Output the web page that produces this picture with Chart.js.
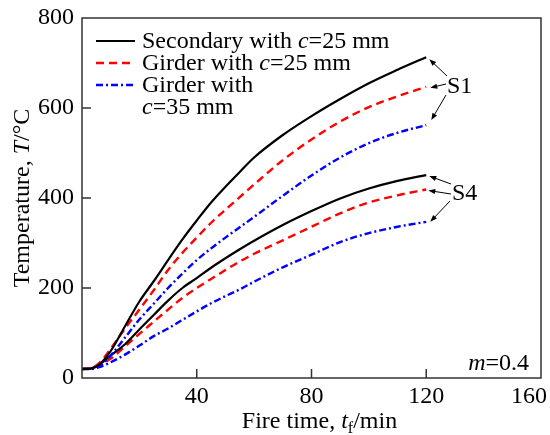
<!DOCTYPE html>
<html>
<head>
<meta charset="utf-8">
<script src="https://cdn.jsdelivr.net/npm/chart.js@4/dist/chart.umd.min.js"></script>
<style>
  html, body { margin: 0; padding: 0; background: #fff; }
  #wrap { width: 550px; height: 435px; }
</style>
</head>
<body>
<div id="wrap"><canvas id="tempChart" width="550" height="435"></canvas></div>
<script>
// fire time in minutes
const fireTime = [0, 3, 6, 10, 15, 20, 25, 30, 35, 40, 45, 50, 55, 60, 70, 80, 90, 100, 110, 120];

// S1 section temperatures (°C)
const s1Secondary25 = [20, 21, 30, 60, 115, 170, 215, 262, 308, 350, 390, 425, 458, 490, 540, 582, 620, 655, 685, 713];
const s1Girder25    = [20, 22, 33, 65, 110, 152, 195, 240, 278, 312, 345, 374, 402, 430, 484, 530, 570, 602, 626, 647];
const s1Girder35    = [20, 21, 26, 50, 90, 130, 165, 200, 232, 262, 288, 312, 335, 358, 405, 450, 490, 522, 545, 562];

// S4 section temperatures (°C)
const s4Secondary25 = [20, 21, 30, 50, 75, 108, 140, 172, 200, 222, 245, 266, 286, 305, 340, 371, 399, 421, 438, 451];
const s4Girder25    = [20, 21, 28, 43, 70, 98, 125, 152, 178, 200, 220, 240, 259, 276, 306, 336, 366, 390, 406, 419];
const s4Girder35    = [20, 20, 24, 35, 52, 72, 93, 110, 129, 148, 166, 182, 197, 214, 246, 274, 302, 322, 336, 347];

const yTicks = [0, 200, 400, 600, 800];
const xTicks = [40, 80, 120, 160];

const serif = '"Liberation Serif", "Times New Roman", serif';
const FS = 24;

function pts(values) {
    return values.map((v, i) => ({ x: fireTime[i], y: v }));
}

const styles = {
    secondary: { color: '#000000', width: 2.2, dash: [] },
    girder25: { color: '#ff0000', width: 2.4, dash: [8, 5] },
    girder35: { color: '#0000ff', width: 2.4, dash: [7, 3, 2, 3] }
};

function ds(values, st) {
    return {
        data: pts(values),
        borderColor: st.color,
        borderWidth: st.width,
        borderDash: st.dash,
        pointRadius: 0,
        fill: false,
        cubicInterpolationMode: 'monotone'
    };
}

// text made of runs with italic parts and subscripts
function runFont(r) {
    const size = r.sub ? 16 : FS;
    return (r.it ? 'italic ' : '') + size + 'px ' + serif;
}
function runsWidth(ctx, runs) {
    let w = 0;
    runs.forEach(r => { ctx.font = runFont(r); w += ctx.measureText(r.t).width; });
    return w;
}
function drawRuns(ctx, runs, x, y, align) {
    let cx = x;
    if (align === 'center') cx = x - runsWidth(ctx, runs) / 2;
    if (align === 'right') cx = x - runsWidth(ctx, runs);
    ctx.textAlign = 'left';
    ctx.textBaseline = 'alphabetic';
    runs.forEach(r => {
        ctx.font = runFont(r);
        ctx.fillText(r.t, cx, y + (r.sub ? 5 : 0));
        cx += ctx.measureText(r.t).width;
    });
}

function arrow(ctx, x0, y0, x1, y1) {
    const a = Math.atan2(y1 - y0, x1 - x0);
    const len = 7, half = 2.6;
    ctx.beginPath();
    ctx.moveTo(x0, y0);
    ctx.lineTo(x1 - Math.cos(a) * len * 0.8, y1 - Math.sin(a) * len * 0.8);
    ctx.stroke();
    ctx.beginPath();
    ctx.moveTo(x1, y1);
    ctx.lineTo(x1 - Math.cos(a) * len - Math.sin(a) * half, y1 - Math.sin(a) * len + Math.cos(a) * half);
    ctx.lineTo(x1 - Math.cos(a) * len + Math.sin(a) * half, y1 - Math.sin(a) * len - Math.cos(a) * half);
    ctx.closePath();
    ctx.fill();
}

const framePlugin = {
    id: 'frame',
    afterDatasetsDraw(chart) {
        const { ctx, chartArea: ca, scales } = chart;
        const xs = scales.x, ys = scales.y;
        ctx.save();

        // box and inward ticks
        ctx.strokeStyle = '#333';
        ctx.lineWidth = 1.5;
        ctx.strokeRect(ca.left, ca.top, ca.right - ca.left, ca.bottom - ca.top);
        ctx.beginPath();
        [200, 400, 600].forEach(v => {
            const y = ys.getPixelForValue(v);
            ctx.moveTo(ca.left, y); ctx.lineTo(ca.left + 9, y);
        });
        [40, 80, 120].forEach(v => {
            const x = xs.getPixelForValue(v);
            ctx.moveTo(x, ca.bottom); ctx.lineTo(x, ca.bottom - 9);
        });
        ctx.stroke();

        ctx.fillStyle = '#000';

        // legend
        const legend = [
            { st: styles.secondary, runs: [[{ t: 'Secondary with ' }, { t: 'c', it: true }, { t: '=25 mm' }]] },
            { st: styles.girder25, runs: [[{ t: 'Girder with ' }, { t: 'c', it: true }, { t: '=25 mm' }]] },
            { st: styles.girder35, runs: [[{ t: 'Girder with' }], [{ t: 'c', it: true }, { t: '=35 mm' }]] }
        ];
        let rowY = 41;
        legend.forEach(item => {
            ctx.strokeStyle = item.st.color;
            ctx.lineWidth = item.st.width;
            ctx.setLineDash(item.st.dash);
            ctx.beginPath();
            ctx.moveTo(96, rowY); ctx.lineTo(135, rowY);
            ctx.stroke();
            ctx.setLineDash([]);
            item.runs.forEach(line => {
                drawRuns(ctx, line, 142, rowY + 7, 'left');
                rowY += 22;
            });
        });

        // S1 / S4 labels with arrows to the curve ends
        ctx.strokeStyle = '#000';
        ctx.lineWidth = 1;
        const xe = xs.getPixelForValue(fireTime[fireTime.length - 1]);
        const last = a => ys.getPixelForValue(a[a.length - 1]);
        ctx.font = FS + 'px ' + serif;
        ctx.fillText('S1', 447, 93);
        arrow(ctx, 447, 76, xe + 3, last(s1Secondary25) + 2);
        arrow(ctx, 446, 84, xe + 4, last(s1Girder25) + 1);
        arrow(ctx, 446, 95, xe + 5, last(s1Girder35) - 5);
        ctx.fillText('S4', 452, 200);
        arrow(ctx, 451, 184, xe + 3, last(s4Secondary25) + 1);
        arrow(ctx, 451, 194, xe + 2, last(s4Girder25) + 1);
        arrow(ctx, 450, 201, xe + 4, last(s4Girder35));

        drawRuns(ctx, [{ t: 'm', it: true }, { t: '=0.4' }], 529, 370, 'right');

        // axis titles
        drawRuns(ctx, [{ t: 'Fire time, ' }, { t: 't', it: true }, { t: 'f', sub: true }, { t: '/min' }],
            (ca.left + ca.right) / 2 + 8, 428, 'center');
        ctx.translate(29, (ca.top + ca.bottom) / 2);
        ctx.rotate(-Math.PI / 2);
        drawRuns(ctx, [{ t: 'Temperature, ' }, { t: 'T', it: true }, { t: '/°C' }], 0, 0, 'center');

        ctx.restore();
    }
};

new Chart(document.getElementById('tempChart'), {
    type: 'line',
    data: {
        datasets: [
            ds(s1Secondary25, styles.secondary),
            ds(s1Girder25, styles.girder25),
            ds(s1Girder35, styles.girder35),
            ds(s4Secondary25, styles.secondary),
            ds(s4Girder25, styles.girder25),
            ds(s4Girder35, styles.girder35)
        ]
    },
    options: {
        responsive: false,
        animation: false,
        layout: { padding: { left: 0, right: 9, top: 18, bottom: 0 } },
        plugins: { legend: { display: false }, tooltip: { enabled: false } },
        scales: {
            x: {
                type: 'linear',
                min: 0,
                max: 160,
                grid: { display: false, drawTicks: false },
                border: { display: false },
                afterBuildTicks(scale) { scale.ticks = xTicks.map(v => ({ value: v })); },
                afterFit(scale) { scale.height = 57; scale.paddingLeft = 0; scale.paddingRight = 0; },
                ticks: {
                    color: '#000',
                    padding: 4,
                    maxRotation: 0,
                    font: { family: serif, size: FS },
                    // the last label sits left of its tick so it stays inside the canvas
                    callback: v => v === 160 ? '160\u2002\u2002' : String(v)
                }
            },
            y: {
                min: 0,
                max: 800,
                grid: { display: false, drawTicks: false },
                border: { display: false },
                afterBuildTicks(scale) { scale.ticks = yTicks.map(v => ({ value: v })); },
                afterFit(scale) { scale.width = 82; scale.paddingTop = 0; scale.paddingBottom = 0; },
                ticks: { color: '#000', padding: 8, font: { family: serif, size: FS } }
            }
        }
    },
    plugins: [framePlugin]
});
</script>
</body>
</html>
